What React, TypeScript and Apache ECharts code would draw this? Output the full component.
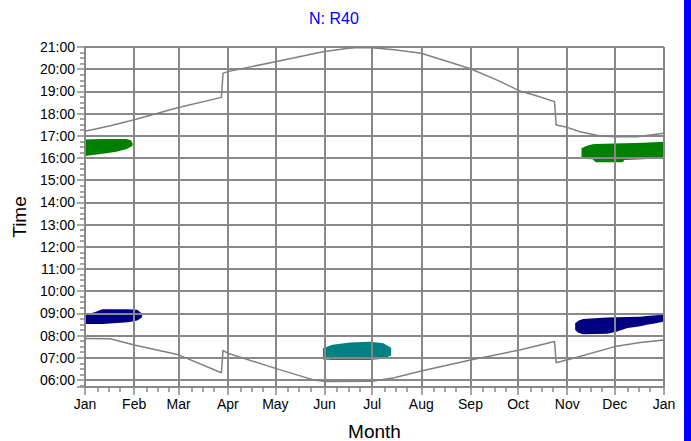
import React, { useEffect, useRef } from 'react';
import * as echarts from 'echarts';

const MONTH_STARTS = [0, 31, 59, 90, 120, 151, 181, 212, 243, 273, 304, 334, 365];
const MONTH_LABELS = ['Jan', 'Feb', 'Mar', 'Apr', 'May', 'Jun', 'Jul', 'Aug', 'Sep', 'Oct', 'Nov', 'Dec', 'Jan'];
const MINOR_TICK_DAYS = MONTH_STARTS.slice(0, 12).flatMap((m) => [m + 8, m + 15, m + 22]);

const SUNSET_DAYS = [0, 16, 31, 59, 86, 87, 90, 120, 150, 165, 172, 181, 195, 212, 243, 262, 274, 283, 296, 297, 304, 312, 325, 334, 348, 360, 365];
const SUNSET = [17.2, 17.45, 17.72, 18.27, 18.73, 19.81, 19.89, 20.34, 20.79, 20.93, 20.98, 20.97, 20.88, 20.72, 20.02, 19.44, 19.02, 18.84, 18.54, 17.49, 17.38, 17.18, 16.99, 16.96, 16.96, 17.07, 17.11];

const SUNRISE_DAYS = [0, 16, 31, 59, 86, 87, 90, 120, 144, 152, 181, 195, 212, 243, 274, 296, 297, 309, 334, 350, 365];
const SUNRISE = [7.87, 7.85, 7.57, 7.13, 6.32, 7.33, 7.2, 6.52, 6.0, 5.93, 5.94, 6.1, 6.4, 6.9, 7.35, 7.73, 6.77, 7.0, 7.5, 7.68, 7.8];

const JAN_PM_DAYS = [0, 10, 19, 26, 29, 30];
const JAN_PM_HIGH = [16.83, 16.85, 16.86, 16.85, 16.8, 16.65];
const JAN_PM_LOW = [16.09, 16.18, 16.27, 16.39, 16.5, 16.55];

const JAN_AM_DAYS = [0, 6, 11, 27, 33, 36];
const JAN_AM_HIGH = [8.93, 9.05, 9.18, 9.18, 9.16, 8.98];
const JAN_AM_LOW = [8.52, 8.52, 8.52, 8.6, 8.68, 8.82];

const JUN_AM_DAYS = [150, 156, 167, 180, 188, 193];
const JUN_AM_HIGH = [7.43, 7.58, 7.68, 7.72, 7.65, 7.45];
const JUN_AM_LOW = [6.92, 6.9, 6.9, 6.9, 6.95, 7.1];

const DEC_PM_DAYS = [313, 316, 320, 322, 339, 340, 352, 358, 365];
const DEC_PM_HIGH = [16.44, 16.54, 16.62, 16.63, 16.66, 16.66, 16.69, 16.71, 16.73];
const DEC_PM_LOW = [15.99, 15.95, 15.94, 15.81, 15.81, 15.91, 15.94, 15.96, 16.06];

const DEC_AM_DAYS = [309, 311, 314, 329, 335, 342, 348, 350, 354, 360, 365];
const DEC_AM_HIGH = [8.55, 8.66, 8.74, 8.81, 8.82, 8.83, 8.84, 8.85, 8.88, 8.91, 8.93];
const DEC_AM_LOW = [8.25, 8.12, 8.06, 8.08, 8.17, 8.34, 8.4, 8.42, 8.48, 8.55, 8.63];

const FONT = 'Liberation Sans, Arial, sans-serif';
const GRID_COLOR = '#888888';

export default function App() {
  const ref = useRef<HTMLDivElement>(null);
  useEffect(() => {
    const chart = echarts.init(ref.current as HTMLDivElement, null, { renderer: 'svg' });
    const dayCats = Array.from({ length: 366 }, (_, i) => String(i));
    const isMonth = (i: number) => MONTH_STARTS.includes(i);
    const isMinor = (i: number) => MINOR_TICK_DAYS.includes(i);
    const blobs = [
      { days: JAN_PM_DAYS, high: JAN_PM_HIGH, low: JAN_PM_LOW, color: '#008000' },
      { days: JAN_AM_DAYS, high: JAN_AM_HIGH, low: JAN_AM_LOW, color: '#000080' },
      { days: JUN_AM_DAYS, high: JUN_AM_HIGH, low: JUN_AM_LOW, color: '#008080' },
      { days: DEC_PM_DAYS, high: DEC_PM_HIGH, low: DEC_PM_LOW, color: '#008000' },
      { days: DEC_AM_DAYS, high: DEC_AM_HIGH, low: DEC_AM_LOW, color: '#000080' },
    ];
    const gridBox = { left: 85, right: 27, top: 47, bottom: 54, containLabel: false, outerBoundsMode: 'none' };
    const pad = (n: number) => (n < 10 ? '0' + n : String(n));
    chart.setOption({
      animation: false,
      backgroundColor: '#ffffff',
      title: {
        text: 'N: R40',
        left: 304,
        top: 5,
        textStyle: { color: '#0000ff', fontSize: 16, fontWeight: 'normal', fontFamily: FONT },
      },
      graphic: [
        { type: 'rect', left: 684, top: 0, shape: { width: 7, height: 441 }, style: { fill: '#0000ff' } },
      ],
      grid: [{ ...gridBox }, { ...gridBox }],
      xAxis: [
        {
          gridIndex: 0,
          type: 'category',
          data: dayCats,
          boundaryGap: false,
          axisLine: { lineStyle: { color: GRID_COLOR, width: 2 } },
          axisTick: { show: true, interval: (i: number) => isMonth(i), length: 8, lineStyle: { color: GRID_COLOR, width: 1.5 } },
          axisLabel: {
            interval: (i: number) => isMonth(i),
            formatter: (v: string) => {
              const k = MONTH_STARTS.indexOf(Number(v));
              return k >= 0 ? MONTH_LABELS[k] : '';
            },
            color: '#000',
            fontFamily: FONT,
            fontSize: 14,
            margin: 10,
          },
          splitLine: { show: true, interval: (i: number) => isMonth(i), lineStyle: { color: GRID_COLOR, width: 2 } },
          name: 'Month',
          nameLocation: 'middle',
          nameGap: 35,
          nameTextStyle: { fontSize: 19, color: '#000', fontFamily: FONT },
        },
        {
          gridIndex: 1,
          type: 'category',
          data: dayCats,
          boundaryGap: false,
          axisLine: { show: false },
          axisTick: { show: true, interval: (i: number) => isMinor(i), length: 5, lineStyle: { color: GRID_COLOR, width: 1.5 } },
          axisLabel: { show: false },
          splitLine: { show: false },
        },
      ],
      yAxis: [
        {
          gridIndex: 0,
          type: 'value',
          min: 5.68,
          max: 21,
          minInterval: 1,
          maxInterval: 1,
          splitNumber: 15,
          axisLine: { show: true, lineStyle: { color: GRID_COLOR, width: 2 } },
          axisTick: { show: true, length: 8, lineStyle: { color: GRID_COLOR, width: 1.5 } },
          minorTick: { show: true, splitNumber: 4, length: 5, lineStyle: { color: GRID_COLOR, width: 1.5 } },
          axisLabel: {
            formatter: (v: number) => (Math.abs(v - Math.round(v)) < 1e-6 ? pad(Math.round(v)) + ':00' : ''),
            color: '#000',
            fontFamily: FONT,
            fontSize: 14,
            margin: 10,
          },
          splitLine: { show: true, lineStyle: { color: GRID_COLOR, width: 2 } },
          name: 'Time',
          nameLocation: 'middle',
          nameGap: 52,
          nameRotate: 90,
          nameTextStyle: { fontSize: 19, color: '#000', fontFamily: FONT },
        },
        { gridIndex: 1, type: 'value', min: 5.68, max: 21, show: false },
      ],
      series: [
        {
          type: 'custom',
          xAxisIndex: 0,
          yAxisIndex: 0,
          z: -1,
          silent: true,
          data: blobs.map((b, i) => [b.days[0], b.low[0], i]),
          encode: { x: 0, y: 1 },
          renderItem: (params: any, api: any) => {
            const b = blobs[params.dataIndex];
            const top = b.days.map((d, k) => api.coord([d, b.high[k]]));
            const bot = b.days.map((d, k) => api.coord([d, b.low[k]])).reverse();
            return { type: 'polygon', shape: { points: [...top, ...bot] }, style: { fill: b.color } };
          },
        },
        {
          type: 'line',
          xAxisIndex: 0,
          yAxisIndex: 0,
          data: SUNSET_DAYS.map((d, i) => [d, SUNSET[i]]),
          symbol: 'none',
          silent: true,
          lineStyle: { color: '#808080', width: 1.5 },
        },
        {
          type: 'line',
          xAxisIndex: 0,
          yAxisIndex: 0,
          data: SUNRISE_DAYS.map((d, i) => [d, SUNRISE[i]]),
          symbol: 'none',
          silent: true,
          lineStyle: { color: '#808080', width: 1.5 },
        },
      ],
    });
    return () => chart.dispose();
  }, []);
  return (
    <div
      ref={ref}
      style={{ position: 'fixed', left: 0, top: 0, width: 691, height: 441, background: '#fff' }}
    />
  );
}
